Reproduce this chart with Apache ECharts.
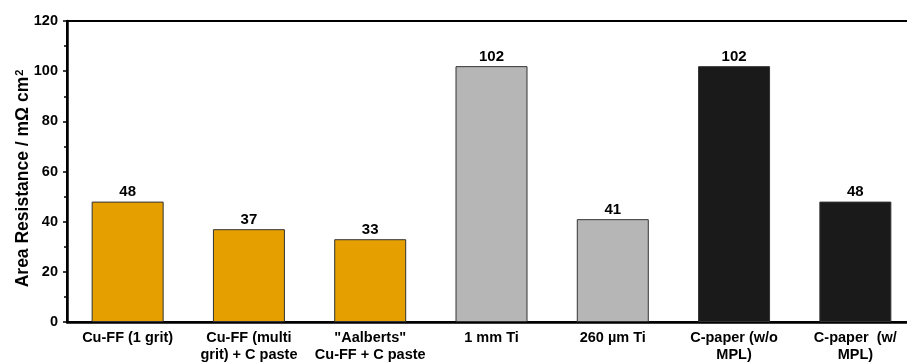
<!DOCTYPE html>
<html>
<head>
<meta charset="utf-8">
<script src="https://cdn.jsdelivr.net/npm/echarts@6/dist/echarts.min.js"></script>
<style>
  html, body { margin: 0; padding: 0; background: #fff; }
  #chart { width: 907px; height: 364px; }
</style>
</head>
<body>
<div id="chart"></div>
<script>
// Contact resistance of the tested flow-field / diffusion materials
const categories = [
  'Cu-FF (1 grit)',
  'Cu-FF (multi\ngrit) + C paste',
  '"Aalberts"\nCu-FF + C paste',
  '1 mm Ti',
  '260 µm Ti',
  'C-paper (w/o\nMPL)',
  'C-paper  (w/\nMPL)'
];
const resistance = [48, 37, 33, 102, 41, 102, 48];
const barColors = ['#E5A000', '#E5A000', '#E5A000', '#B6B6B6', '#B6B6B6', '#1A1A1A', '#1A1A1A'];
const yTicks = { min: 0, max: 120, interval: 20 };

const font = 'Liberation Sans, Arial, sans-serif';
const chart = echarts.init(document.getElementById('chart'));

chart.setOption({
  animation: false,
  grid: {
    left: 67, top: 21, height: 301, width: 849,
    outerBoundsMode: 'none',
    containLabel: false,
    show: true, borderColor: '#000', borderWidth: 2, backgroundColor: 'transparent'
  },
  xAxis: {
    type: 'category',
    data: categories,
    axisLine: { lineStyle: { color: '#000', width: 2.5 } },
    axisTick: { alignWithLabel: true, length: 5, lineStyle: { color: '#000', width: 1.5 } },
    axisLabel: {
      color: '#000', fontFamily: font, fontWeight: 'bold', fontSize: 14.5,
      lineHeight: 17, margin: 7, interval: 0
    }
  },
  yAxis: {
    type: 'value',
    min: yTicks.min, max: yTicks.max, interval: yTicks.interval,
    name: 'Area Resistance / mΩ cm{sup|2}',
    nameLocation: 'middle',
    nameMoveOverlap: false,
    nameGap: 34,
    nameTextStyle: {
      color: '#000', fontFamily: font, fontWeight: 'bold', fontSize: 17.5,
      padding: [0, 14, 0, 0],
      rich: {
        sup: { fontFamily: font, fontWeight: 'bold', fontSize: 11, color: '#000', verticalAlign: 'top', padding: [0, 0, 8, 1] }
      }
    },
    axisLine: { show: true, lineStyle: { color: '#000', width: 2.5 } },
    axisTick: { show: true, length: 4, lineStyle: { color: '#000', width: 1.5 } },
    minorTick: { show: true, splitNumber: 2, length: 3, lineStyle: { color: '#000', width: 1.5 } },
    splitLine: { show: false },
    axisLabel: { color: '#000', fontFamily: font, fontWeight: 'bold', fontSize: 14.5, margin: 9 }
  },
  series: [{
    type: 'bar',
    barWidth: 72,
    data: resistance.map((v, i) => ({
      value: v,
      itemStyle: { color: barColors[i], borderColor: '#333', borderWidth: 1 }
    })),
    label: {
      show: true, position: 'top', distance: 2,
      color: '#000', fontFamily: font, fontWeight: 'bold', fontSize: 15
    }
  }]
});
</script>
</body>
</html>
